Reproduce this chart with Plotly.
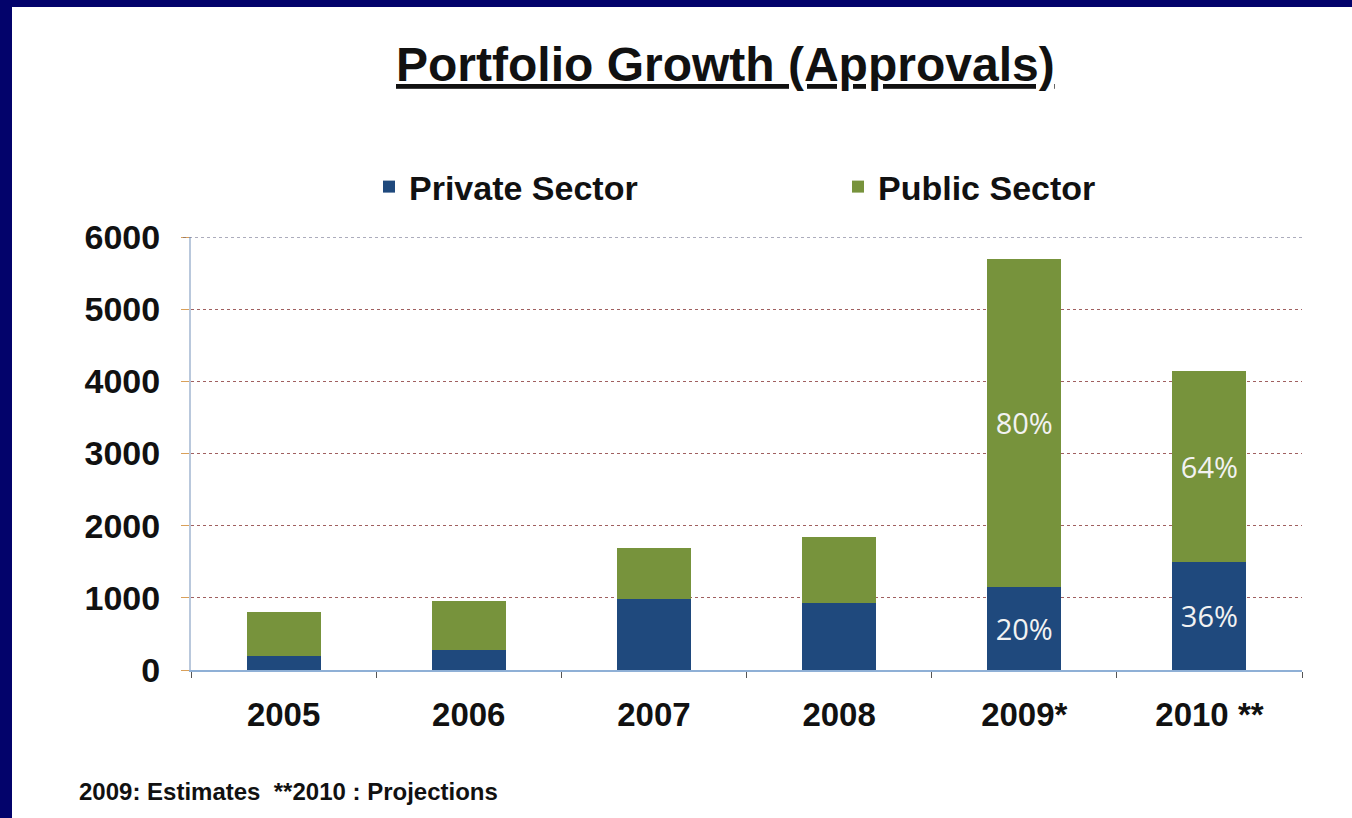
import plotly.graph_objects as go

years = ["2005", "2006", "2007", "2008", "2009*", "2010 **"]
private = [200, 280, 990, 930, 1150, 1500]
public = [600, 670, 700, 910, 4550, 2640]
private_labels = ["", "", "", "", "20%", "36%"]
public_labels = ["", "", "", "", "80%", "64%"]
y_ticks = [0, 1000, 2000, 3000, 4000, 5000, 6000]

W, H = 1352, 818
L, R, T, B = 191, 50, 237, 148
pw, ph = W - L - R, H - T - B

def px(x):
    return (x - L) / pw

def py(y):
    return 1 - (y - T) / ph

lbl_font = dict(family="Open Sans, sans-serif", size=29, color="#f2f2f2")

fig = go.Figure()
fig.add_trace(go.Bar(
    x=years, y=private, name="Private Sector", marker_color="#1F497D",
    marker_line_width=0, text=private_labels, textposition="inside",
    insidetextanchor="middle", textfont=lbl_font,
))
fig.add_trace(go.Bar(
    x=years, y=public, name="Public Sector", marker_color="#77933C",
    marker_line_width=0, text=public_labels, textposition="inside",
    insidetextanchor="middle", textfont=lbl_font,
))

fig.update_layout(
    width=W, height=H,
    barmode="stack", bargap=0.6,
    paper_bgcolor="#03036b", plot_bgcolor="white",
    margin=dict(l=L, r=R, t=T, b=B, autoexpand=False),
    font=dict(family="Liberation Sans, Arial, sans-serif", color="black"),
    showlegend=True,
    legend=dict(orientation="h", x=px(369), y=py(187), xanchor="left", yanchor="middle",
                font=dict(size=34, family="Liberation Sans, Arial", color="#111", weight="bold"),
                entrywidth=424, entrywidthmode="pixels", bgcolor="rgba(0,0,0,0)",
                itemwidth=30, traceorder="normal"),
    uniformtext=dict(minsize=8, mode="show"),
)
fig.update_xaxes(
    showline=True, linecolor="#8fb0d6", linewidth=2,
    ticks="outside", tickson="boundaries", ticklen=6, tickcolor="#555",
    tickfont=dict(size=33, family="Liberation Sans, Arial", color="#111", weight="bold"),
    ticklabelstandoff=14, showgrid=False,
)
fig.update_yaxes(
    range=[0, 6000], tickvals=y_ticks,
    tickfont=dict(size=34, family="Liberation Sans, Arial", color="#111", weight="bold"),
    showline=True, linecolor="#b9c8dc", linewidth=2,
    showgrid=True, gridcolor="#a06060", griddash="dot", gridwidth=1,
    ticks="outside", ticklen=8, tickcolor="#d9a05a", ticklabelstandoff=14,
    zeroline=False,
)

# white slide
fig.add_shape(type="rect", xref="paper", yref="paper", layer="below",
              x0=px(12), x1=px(W + 5), y0=py(H + 5), y1=py(7),
              fillcolor="white", line_width=0)
# top gridline at 6000
fig.add_shape(type="line", xref="paper", yref="y", x0=px(183), x1=1, y0=6000, y1=6000,
              line=dict(color="#5a5a7a", width=1, dash="dot"))

fig.add_annotation(text="<u>Portfolio Growth (Approvals)</u>", xref="paper", yref="paper",
                   x=px(725), y=py(64), xanchor="center", yanchor="middle", showarrow=False,
                   font=dict(size=48, family="Liberation Sans, Arial", color="#111", weight="bold"))
fig.add_annotation(text="2009: Estimates  **2010 : Projections", xref="paper", yref="paper",
                   x=px(77), y=py(791), xanchor="left", yanchor="middle", showarrow=False,
                   font=dict(size=24, family="Liberation Sans, Arial", color="#111", weight="bold"))

fig.write_html("out.html", config={"displayModeBar": False},
               post_script="document.body.style.margin='0';document.body.style.background='#03036b';")
